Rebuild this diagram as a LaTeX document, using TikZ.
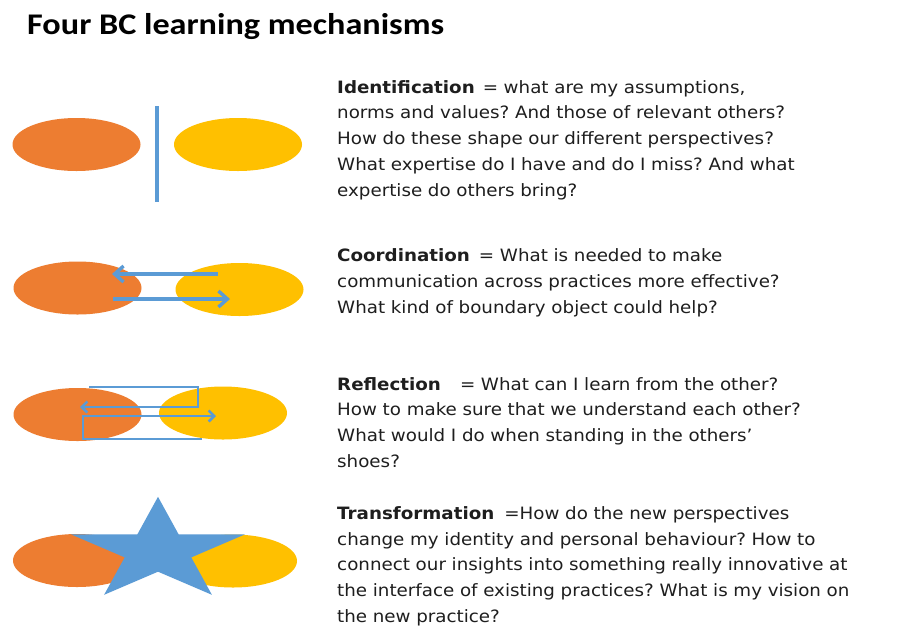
\documentclass[tikz,border=0pt]{standalone}
\usepackage{fontspec}
\setmainfont{DejaVu Sans}[FakeStretch=1.075]
\newfontfamily\titlefont{Carlito}[FakeStretch=1.14]
\usetikzlibrary{shapes.geometric,arrows.meta}
\definecolor{bcorange}{HTML}{ED7D31}
\definecolor{bcyellow}{HTML}{FFC000}
\definecolor{bcblue}{HTML}{5B9BD5}
\definecolor{txt}{HTML}{1E1E1E}
\begin{document}
\frenchspacing
\begin{tikzpicture}[x=1pt,y=-1pt,
  oval/.style={ellipse, inner sep=0pt, minimum width=128pt, minimum height=53pt},
  orangeoval/.style={oval, fill=bcorange},
  yellowoval/.style={oval, fill=bcyellow},
  desc/.style={anchor=base west, inner sep=0pt, text width=570pt, align=left,
    font=\fontsize{17}{25.8}\selectfont, text=txt},
  bigarrow/.style={draw=bcblue, line width=3.4pt, -{Straight Barb[length=9pt,width=16pt]}},
  thinline/.style={draw=bcblue, line width=2.5pt},
  thinarrow/.style={thinline, -{Straight Barb[length=5.5pt,width=11pt]}}
]
\useasboundingbox (0,0) rectangle (902,625);
\fill[white] (0,0) rectangle (902,625);

% title
\node[anchor=base west, inner sep=0pt, font=\titlefont\bfseries\fontsize{30}{36}\selectfont] (title) at (27,34.5) {Four BC learning mechanisms};

% Row 1: identification
\node[orangeoval] (o1) at (76.5,144.5) {};
\node[yellowoval] (y1) at (238,144.5) {};
\coordinate (l1a) at (157,106);
\coordinate (l1b) at (157,202);
\draw[draw=bcblue, line width=3.2pt] (l1a) -- (l1b);

% Row 2: coordination
\node[orangeoval] (o2) at (77.5,288) {};
\node[yellowoval] (y2) at (239.5,289.5) {};
\coordinate (a2s) at (218,274);
\coordinate (a2e) at (112,274);
\coordinate (b2s) at (113,299);
\coordinate (b2e) at (230,299);
\draw[bigarrow] (a2s) -- (a2e);
\draw[bigarrow] (b2s) -- (b2e);

% Row 3: reflection
\node[orangeoval] (o3) at (77.5,414.5) {};
\node[yellowoval] (y3) at (223,413) {};
\coordinate (r1) at (89,387);
\coordinate (r2) at (198,387);
\coordinate (r3) at (198,407);
\coordinate (r4) at (80,407);
\coordinate (s1) at (202,439);
\coordinate (s2) at (83,439);
\coordinate (s3) at (83,416);
\coordinate (s4) at (216,416);
\draw[thinarrow] (r1) -- (r2) -- (r3) -- (r4);
\draw[thinarrow] (s1) -- (s2) -- (s3) -- (s4);

% Row 4: transformation
\node[orangeoval] (o4) at (77,560.5) {};
\node[yellowoval] (y4) at (233,561) {};
\fill[bcblue] (158,496.8) -- (178.6,534.3) -- (245.1,534.3) -- (191.3,557.4)
  -- (211.9,594.8) -- (158,571.7) -- (104.1,594.8) -- (124.7,557.4)
  -- (70.9,534.3) -- (137.4,534.3) -- cycle;

% texts
\node[desc] (t1) at (337,93) {\textbf{Identification}\hspace{8pt}= what are my assumptions,\\
norms and values? And those of relevant others?\\
How do these shape our different perspectives?\\
What expertise do I have and do I miss? And what\\
expertise do others bring?};

\node[desc] (t2) at (337,261.5) {\textbf{Coordination}\hspace{9pt}= What is needed to make\\
communication across practices more effective?\\
What kind of boundary object could help?};

\node[desc] (t3) at (337,390) {\textbf{Reflection}\hspace{19pt}= What can I learn from the other?\\
How to make sure that we understand each other?\\
What would I do when standing in the others'\\
shoes?};

\node[desc] (t4) at (337,519.3) {\textbf{Transformation}\hspace{10pt}=How do the new perspectives\\
change my identity and personal behaviour? How to\\
connect our insights into something really innovative at\\
the interface of existing practices? What is my vision on\\
the new practice?};
\end{tikzpicture}
\end{document}
